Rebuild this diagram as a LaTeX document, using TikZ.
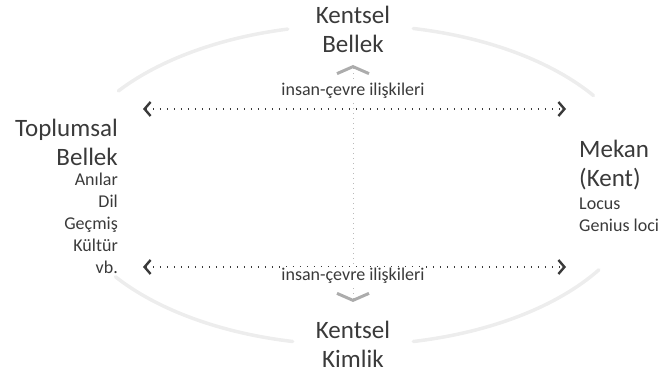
\documentclass[tikz,border=0pt]{standalone}
\usepackage{fontspec}
\setmainfont{Carlito}
\usetikzlibrary{arrows.meta}
\definecolor{ink}{HTML}{3A3A3A}
\definecolor{ring}{HTML}{EDEDED}

\begin{document}
\begin{tikzpicture}[x=1pt,y=1pt,
    title/.style={text=ink, font=\fontsize{25}{29}\selectfont, inner sep=0pt},
    items/.style={text=ink, font=\fontsize{18}{22}\selectfont, inner sep=0pt},
    rel/.style={text=ink, font=\fontsize{18}{20}\selectfont, fill=white, inner sep=1pt},
    link/.style={draw=ink, line width=1.1pt, dash pattern=on 1.2pt off 5.8pt,
      {Straight Barb[length=6pt,width=14pt,line width=2.4pt]}-{Straight Barb[length=6pt,width=14pt,line width=2.4pt]}},
    axis/.style={draw=gray!55, line width=0.7pt, dash pattern=on 1pt off 4pt,
      {Straight Barb[length=7pt,width=32pt,line width=3pt,color=gray!65]}-{Straight Barb[length=7pt,width=32pt,line width=3pt,color=gray!65]}},
    arcs/.style={draw=ring, line width=3.5pt, line cap=round}]
  \useasboundingbox (0,0) rectangle (666,379);
  \coordinate (c) at (353,194);

  \draw[arcs] (c) ++(103:290 and 160) arc[start angle=103, end angle=144, x radius=290, y radius=160];
  \draw[arcs] (c) ++(78:290 and 160) arc[start angle=78, end angle=34, x radius=290, y radius=160];
  \draw[arcs] (c) ++(215:290 and 160) arc[start angle=215, end angle=258, x radius=290, y radius=160];
  \draw[arcs] (c) ++(282:290 and 160) arc[start angle=282, end angle=328, x radius=290, y radius=160];

  \node[title, align=center] (kb) at (353,350) {Kentsel\\Bellek};
  \node[title, align=center] (kk) at (353,35) {Kentsel\\Kimlik};
  \node[title, align=right, anchor=east] (tb) at (118,237) {Toplumsal\\Bellek};
  \node[items, align=right, anchor=east] (tbl) at (118,156) {Anılar\\Dil\\Geçmiş\\Kültür\\vb.};
  \node[title, align=left, anchor=west] (mk) at (579,214) {Mekan\\(Kent)};
  \node[items, align=left, anchor=west] (mkl) at (579,164) {Locus\\Genius loci};

  \coordinate (lt) at (143,270);
  \coordinate (rt) at (566,270);
  \coordinate (lb) at (143,112);
  \coordinate (rb) at (566,112);
  \coordinate (vt) at (353,314);
  \coordinate (vb) at (353,77);

  \draw[axis] (vt) -- (vb);
  \draw[link] (lt) -- (rt);
  \draw[link] (lb) -- (rb);

  \node[rel] (ut) at (353,288) {insan-çevre ilişkileri};
  \node[rel] (ub) at (353,103) {insan-çevre ilişkileri};
\end{tikzpicture}
\end{document}
